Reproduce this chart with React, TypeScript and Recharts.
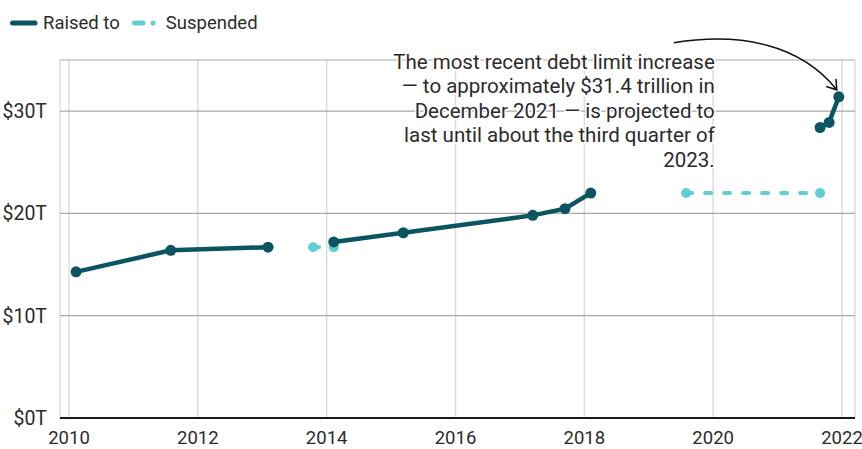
import React from 'react';
import { LineChart, Line, XAxis, YAxis, CartesianGrid, ReferenceDot } from 'recharts';

// Debt limit "raised to" segments (year, trillions $)
const raisedA = [
  { x: 2010.11, y: 14.29 },
  { x: 2011.58, y: 16.39 },
  { x: 2013.09, y: 16.7 },
];
const raisedB = [
  { x: 2014.11, y: 17.21 },
  { x: 2015.19, y: 18.11 },
  { x: 2017.2, y: 19.81 },
  { x: 2017.7, y: 20.46 },
  { x: 2018.1, y: 21.99 },
];
const raisedC = [
  { x: 2021.66, y: 28.4 },
  { x: 2021.8, y: 28.9 },
  { x: 2021.95, y: 31.4 },
];
// Suspended periods
const suspendedA = [
  { x: 2013.79, y: 16.7 },
  { x: 2014.11, y: 16.7 },
];
const suspendedB = [
  { x: 2019.58, y: 22.0 },
  { x: 2021.66, y: 22.0 },
];

const xTicks = [2010, 2012, 2014, 2016, 2018, 2020, 2022];
const yTicks = [0, 10, 20, 30];

const annotationLines = [
  'The most recent debt limit increase',
  '— to approximately $31.4 trillion in',
  'December 2021 — is projected to',
  'last until about the third quarter of',
  '2023.',
];

const DARK = '#0b5462';
const LIGHT = '#5fcfd4';
const TEXT = '#2b2b2b';
const FONT = 'Roboto, "DejaVu Sans", sans-serif';

const Annotation = (props: any) => {
  const { cx, cy } = props;
  if (cx == null || cy == null) return null;
  const tipX = cx - 2;
  const tipY = cy - 7;
  const sx = cx - 165;
  const sy = cy - 54;
  return (
    <g>
      <path
        d={`M${sx},${sy} C${cx - 98},${cy - 65} ${cx - 38},${cy - 52} ${tipX},${tipY}`}
        fill="none"
        stroke="#111"
        strokeWidth={1.5}
      />
      <path
        d={`M${tipX - 10.6},${tipY - 3.4} L${tipX},${tipY} L${tipX - 0.8},${tipY - 11}`}
        fill="none"
        stroke="#111"
        strokeWidth={1.5}
      />
      {annotationLines.map((t, i) => (
        <text
          key={i}
          x={cx - 124}
          y={cy - 28 + i * 24.5}
          textAnchor="end"
          fontSize={20.5}
          fill={TEXT}
          fontFamily={FONT}
          stroke="#fff"
          strokeWidth={3}
          paintOrder="stroke"
        >
          {t}
        </text>
      ))}
    </g>
  );
};

const fmtY = (v: number) => `$${v}T`;

export default function App() {
  return (
    <div style={{ position: 'absolute', left: 0, top: 0, width: 862, height: 449, background: '#fff', fontFamily: FONT }}>
      <div style={{ position: 'absolute', left: 10, top: 10, display: 'flex', alignItems: 'center', fontSize: 18.5, color: TEXT, height: 26 }}>
        <svg width={28} height={10} style={{ marginRight: 5 }}>
          <line x1={2.5} y1={5} x2={25} y2={5} stroke={DARK} strokeWidth={5} strokeLinecap="round" />
        </svg>
        <span>Raised to</span>
        <svg width={30} height={10} style={{ marginLeft: 12, marginRight: 4 }}>
          <line x1={2.5} y1={5} x2={11} y2={5} stroke={LIGHT} strokeWidth={5} strokeLinecap="round" />
          <circle cx={21} cy={5} r={2.5} fill={LIGHT} />
        </svg>
        <span>Suspended</span>
      </div>
      <LineChart
        width={862}
        height={449}
        margin={{ top: 60, right: 7, bottom: 0, left: 0 }}
        style={{ position: 'absolute', left: 0, top: 0 }}
      >
        <CartesianGrid horizontal={false} vertical={true} stroke="#dcdcdc" strokeWidth={1.5} />
        <CartesianGrid horizontal={true} vertical={false} stroke="#a8a8a8" strokeWidth={1.2} />
        <XAxis
          type="number"
          dataKey="x"
          domain={[2010, 2022]}
          ticks={xTicks}
          padding={{ left: 9, right: 13 }}
          height={31}
          tickLine={false}
          axisLine={{ stroke: '#1a1a1a', strokeWidth: 2 }}
          tick={{ fontSize: 18.5, fill: TEXT, fontFamily: FONT }}
          tickMargin={7}
          allowDuplicatedCategory={false}
        />
        <YAxis
          type="number"
          dataKey="y"
          domain={[0, 35]}
          ticks={yTicks}
          width={60}
          tickLine={false}
          axisLine={false}
          tickFormatter={fmtY}
          tick={{ fontSize: 19.5, fill: TEXT, fontFamily: FONT }}
          tickMargin={7}
        />
        <Line data={suspendedA} dataKey="y" stroke={LIGHT} strokeWidth={4} strokeDasharray="6 13" strokeLinecap="round"
          dot={{ r: 5, fill: LIGHT, stroke: LIGHT, strokeWidth: 0, strokeDasharray: '0' }} activeDot={false} isAnimationActive={false} />
        <Line data={suspendedB} dataKey="y" stroke={LIGHT} strokeWidth={4} strokeDasharray="6 13" strokeLinecap="round"
          dot={{ r: 5, fill: LIGHT, stroke: LIGHT, strokeWidth: 0, strokeDasharray: '0' }} activeDot={false} isAnimationActive={false} />
        <Line data={raisedA} dataKey="y" stroke={DARK} strokeWidth={4.5}
          dot={{ r: 5.5, fill: DARK, stroke: DARK, strokeWidth: 0 }} activeDot={false} isAnimationActive={false} />
        <Line data={raisedB} dataKey="y" stroke={DARK} strokeWidth={4.5}
          dot={{ r: 5.5, fill: DARK, stroke: DARK, strokeWidth: 0 }} activeDot={false} isAnimationActive={false} />
        <Line data={raisedC} dataKey="y" stroke={DARK} strokeWidth={4.5}
          dot={{ r: 5.5, fill: DARK, stroke: DARK, strokeWidth: 0 }} activeDot={false} isAnimationActive={false} />
        <ReferenceDot x={2021.95} y={31.4} r={0} shape={Annotation} ifOverflow="visible" />
      </LineChart>
    </div>
  );
}
